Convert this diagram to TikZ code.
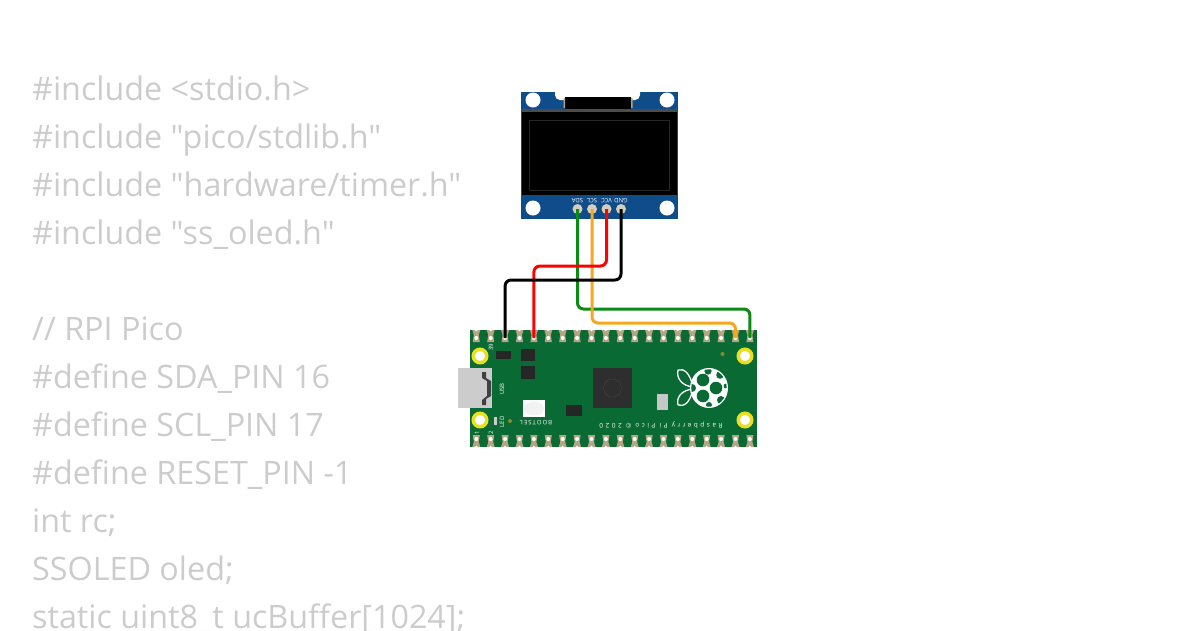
\documentclass[tikz,border=0pt]{standalone}
\usepackage{fontspec}
\setmainfont[Ligatures=TeXOff]{Open Sans}
\newfontfamily\silkwide[LetterSpace=38]{Open Sans}
\definecolor{codegray}{HTML}{CCCCCC}
\definecolor{boardgreen}{HTML}{0A6A34}
\definecolor{oledblue}{HTML}{0F4C8A}
\definecolor{padtan}{HTML}{B5A585}
\definecolor{wireorange}{HTML}{F5A81C}
\definecolor{wiregreen}{HTML}{0B8A14}
\definecolor{ringyellow}{HTML}{EAE020}
\tikzset{
    codeline/.style={anchor=base west, inner sep=0pt, text=codegray, font=\fontsize{32.3}{32.3}\selectfont},
    wire/.style={line width=3pt, rounded corners=6pt},
    chip/.style={fill=black!85, draw=none},
    mounthole/.style={circle, minimum size=13.5pt, inner sep=0pt, fill=white, draw=ringyellow, line width=3.5pt},
    oledhole/.style={circle, minimum size=15pt, inner sep=0pt, fill=white},
    oledpin/.style={circle, minimum size=10pt, inner sep=0pt, fill=padtan!55!white},
    silk/.style={text=white, inner sep=0pt, font=\fontsize{6}{6}\selectfont},
    pcbhole/.style={circle, minimum size=4pt, inner sep=0pt, fill=white},
    logoline/.style={draw=white, fill=boardgreen, line width=1.3pt, line join=round}
}
\begin{document}
\begin{tikzpicture}[x=1pt, y=-1pt]
    \useasboundingbox (0,0) rectangle (1200,630);
    \clip (0,0) rectangle (1200,630);

    % code behind the parts
    \node[codeline] (inc1) at (32,100) {\#include <stdio.h>};
    \node[codeline] (inc2) at (32,148) {\#include "pico/stdlib.h"};
    \node[codeline] (inc3) at (32,196) {\#include "hardware/timer.h"};
    \node[codeline] (inc4) at (32,244) {\#include "ss\_oled.h"};
    \node[codeline] (cmt) at (32,340) {// RPI Pico};
    \node[codeline] (def1) at (32,388) {\#define SDA\_PIN 16};
    \node[codeline] (def2) at (32,436) {\#define SCL\_PIN 17};
    \node[codeline] (def3) at (32,484) {\#define RESET\_PIN -1};
    \node[codeline] (var1) at (32,532) {int rc;};
    \node[codeline] (var2) at (32,580) {SSOLED oled;};
    \node[codeline] (var3) at (32,628.6) {static uint8\_t ucBuffer[1024];};

    % oled
    \fill[oledblue] (521,92) rectangle (678,219);
    \fill[white, rounded corners=5pt] (555,85) rectangle (640,100);
    \fill[black] (565,97) rectangle (631,110);
    \fill[padtan] (563.5,98) rectangle (565,108) (631,98) rectangle (632.5,108);
    \fill[black!70] (522,109) rectangle (677,112);
    \fill[black] (522,112) rectangle (677,195);
    \draw[black!85, line width=0.5pt] (529,120) rectangle (669,190);
    \node[oledhole] (oh1) at (533,100) {};
    \node[oledhole] (oh2) at (667,100) {};
    \node[oledhole] (oh3) at (533,208) {};
    \node[oledhole] (oh4) at (667,208) {};
    \node[oledpin] (sda) at (577.5,209) {};
    \node[oledpin] (scl) at (592,209) {};
    \node[oledpin] (vcc) at (606.5,209) {};
    \node[oledpin] (gnd) at (621,209) {};
    \node[silk, rotate=180] at (577.5,200.5) {SDA};
    \node[silk, rotate=180] at (592,200.5) {SCL};
    \node[silk, rotate=180] at (606.5,200.5) {VCC};
    \node[silk, rotate=180] at (621,200.5) {GND};

    % pico
    \fill[boardgreen] (470,330) rectangle (757,447);
    \foreach \i in {1,...,20} {
        \fill[padtan] ({476.3+(\i-1)*14.4-4},330) -- ({476.3+(\i-1)*14.4+4},330) -- ({476.3+(\i-1)*14.4+2.5},335)
            -- ({476.3+(\i-1)*14.4+3.5},342) -- ({476.3+(\i-1)*14.4-3.5},342) -- ({476.3+(\i-1)*14.4-2.5},335) -- cycle;
        \fill[padtan] ({476.3+(\i-1)*14.4-3.5},435) -- ({476.3+(\i-1)*14.4+3.5},435) -- ({476.3+(\i-1)*14.4+2.5},442)
            -- ({476.3+(\i-1)*14.4+4},447) -- ({476.3+(\i-1)*14.4-4},447) -- ({476.3+(\i-1)*14.4-2.5},442) -- cycle;
        \fill[white] ({476.3+(\i-1)*14.4},329.5) circle (1.8);
        \fill[white] ({476.3+(\i-1)*14.4},447.5) circle (1.8);
        \node[pcbhole] (top\i) at ({476.3+(\i-1)*14.4},338) {};
        \node[pcbhole] (bot\i) at ({476.3+(\i-1)*14.4},439) {};
    }
    \node[mounthole] (mh1) at (480,356) {};
    \node[mounthole] (mh2) at (480,420) {};
    \node[mounthole] (mh3) at (745,356) {};
    \node[mounthole] (mh4) at (745,420) {};

    % usb
    \fill[black!20] (457.5,368) rectangle (492,408);
    \fill[black!75] (482,372) -- (486,372) -- (486,378) -- (491,381) -- (491,396) -- (486,399) -- (486,405) -- (482,405) -- (482,400) -- (487,396) -- (487,381) -- (482,378) -- cycle;

    % small parts
    \fill[chip] (496,351) rectangle (511,359);
    \fill[chip] (521,349) rectangle (535,361);
    \fill[chip] (521,366) rectangle (535,379);
    \fill[chip] (566,405) rectangle (582,416);
    \fill[black!82] (593,368) rectangle (632,408);
    \draw[black!74, line width=0.4pt] (612.5,388) circle (9);
    \fill[white] (523,400) rectangle (545,417);
    \fill[black!5] (534,408.5) ellipse (10 and 7);
    \fill[black!22] (657,394) rectangle (668,410);
    \fill[black!20] (493.5,417) rectangle (497,425);
    \fill[olive!70!gray] (510,421) circle (2);
    \fill[olive!70!gray] (722.5,354) circle (2);

    % silk
    \node[silk, rotate=90] at (491,347) {39};
    \node[silk, rotate=90] at (502,389) {USB};
    \node[silk, rotate=90] at (502,422) {LED};
    \node[silk, rotate=90] at (477,433) {1};
    \node[silk, rotate=90] at (491,433) {2};
    \node[silk, rotate=180] at (536,423) {B\,O\,O\,T\,S\,E\,L};
    \node[silk, rotate=180, font=\silkwide\fontsize{6.5}{6.5}\selectfont] at (661,425) {Raspberry Pi Pico © 2020};

    % raspberry
    \draw[logoline] (693,387) .. controls (690,373) and (684,368) .. (678,370) .. controls (676,378) and (682,386) .. (693,387) -- cycle;
    \draw[logoline] (693,389) .. controls (690,403) and (684,407) .. (678,405) .. controls (676,397) and (682,390) .. (693,389) -- cycle;
    \fill[white] (709,388) ellipse (19 and 20);
    \begin{scope}
        \clip (709,388) ellipse (17.7 and 18.7);
        \foreach \px/\py/\pr in {703/380/6.3, 716/388/6.3, 703/396/6.3, 692/388/4, 708/371/3.6, 720/375/3.8, 726/386/2.4, 721/400/4, 709/405/3} {
            \fill[boardgreen] (\px,\py) circle (\pr);
        }
    \end{scope}

    % wires
    \draw[wire, wiregreen] (sda.center) -- (sda.center |- 0,309) -- (top20.center |- 0,309) -- (top20.center);
    \draw[wire, wireorange] (scl.center) -- (scl.center |- 0,323) -- (top19.center |- 0,323) -- (top19.center);
    \draw[wire, red] (vcc.center) -- (vcc.center |- 0,266) -- (top5.center |- 0,266) -- (top5.center);
    \draw[wire, black] (gnd.center) -- (gnd.center |- 0,280) -- (top3.center |- 0,280) -- (top3.center);
\end{tikzpicture}
\end{document}
